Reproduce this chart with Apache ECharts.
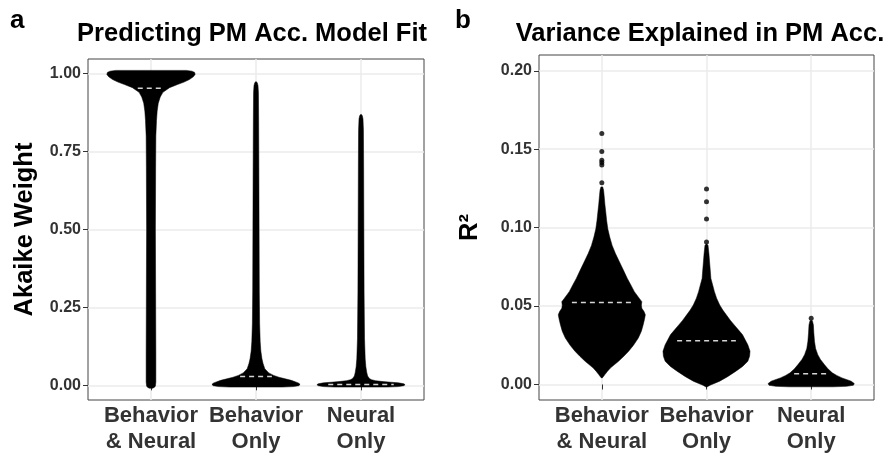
<!DOCTYPE html>
<html>
<head>
<meta charset="utf-8">
<script src="https://cdn.jsdelivr.net/npm/echarts@6/dist/echarts.min.js"></script>
<style>
    html, body { margin: 0; padding: 0; background: #fff; }
    #chart { width: 885px; height: 455px; }
</style>
</head>
<body>
<div id="chart"></div>
<script>
const categories = ['Behavior\n& Neural', 'Behavior\nOnly', 'Neural\nOnly'];
const categoryPositions = [1, 2, 3];
const akaikeTicks = [0, 0.25, 0.5, 0.75, 1];
const r2Ticks = [0, 0.05, 0.1, 0.15, 0.2];

// violin outlines: [value, relative width]
const akaikeBehNeural = [
    [-0.009, 0.04], [-0.006, 0.08], [-0.002, 0.1], [0.01, 0.11], [0.1, 0.11], [0.3, 0.105],
    [0.5, 0.1], [0.7, 0.105], [0.8, 0.11], [0.85, 0.125], [0.88, 0.14], [0.905, 0.165],
    [0.925, 0.21], [0.94, 0.27], [0.955, 0.42], [0.965, 0.6], [0.973, 0.75], [0.981, 0.87],
    [0.99, 0.96], [0.997, 1.0], [1.004, 0.99], [1.008, 0.93], [1.0105, 0.8]
];
const akaikeBehOnly = [
    [-0.0055, 0.6], [-0.004, 0.85], [-0.001, 0.97], [0.003, 1.0], [0.007, 0.97], [0.011, 0.9],
    [0.016, 0.8], [0.021, 0.66], [0.026, 0.52], [0.032, 0.4], [0.04, 0.29], [0.053, 0.2],
    [0.07, 0.16], [0.085, 0.135], [0.11, 0.11], [0.14, 0.095], [0.2, 0.082], [0.3, 0.075],
    [0.5, 0.07], [0.7, 0.065], [0.85, 0.06], [0.94, 0.055], [0.962, 0.045], [0.97, 0.03], [0.974, 0.01]
];
const akaikeNeurOnly = [
    [-0.0055, 0.6], [-0.004, 0.85], [-0.001, 0.97], [0.002, 1.0], [0.005, 0.97], [0.008, 0.85],
    [0.01, 0.68], [0.012, 0.5], [0.015, 0.33], [0.018, 0.24], [0.022, 0.19], [0.03, 0.15],
    [0.042, 0.13], [0.06, 0.11], [0.085, 0.095], [0.15, 0.08], [0.3, 0.07], [0.5, 0.065],
    [0.7, 0.06], [0.82, 0.055], [0.855, 0.045], [0.865, 0.03], [0.869, 0.01]
];
const akaikeMedians = [0.953, 0.028, 0.003];

const r2BehNeural = [
    [0.0042, 0.01], [0.0055, 0.05], [0.0063, 0.07], [0.0085, 0.13], [0.0106, 0.2], [0.0127, 0.29],
    [0.0148, 0.38], [0.018, 0.5], [0.0212, 0.61], [0.025, 0.72], [0.0296, 0.83], [0.034, 0.9],
    [0.038, 0.94], [0.0415, 0.97], [0.0444, 0.99], [0.0465, 0.96], [0.0486, 0.91], [0.0505, 0.9],
    [0.0528, 0.91], [0.055, 0.85], [0.0592, 0.74], [0.0635, 0.66], [0.0676, 0.58], [0.073, 0.49],
    [0.0782, 0.4], [0.0835, 0.31], [0.0887, 0.235], [0.094, 0.18], [0.0993, 0.136], [0.1045, 0.11],
    [0.1099, 0.09], [0.115, 0.07], [0.1204, 0.053], [0.124, 0.04], [0.126, 0.02]
];
const r2BehOnly = [
    [-0.0016, 0.01], [-0.0005, 0.08], [0.0021, 0.3], [0.005, 0.48], [0.0085, 0.67], [0.0115, 0.82],
    [0.0148, 0.94], [0.018, 0.98], [0.0212, 0.99], [0.0253, 0.94], [0.0285, 0.88], [0.0317, 0.82],
    [0.035, 0.72], [0.038, 0.63], [0.041, 0.54], [0.0444, 0.45], [0.0475, 0.37], [0.0507, 0.3],
    [0.055, 0.23], [0.0592, 0.18], [0.0635, 0.14], [0.0676, 0.1], [0.073, 0.085], [0.0782, 0.07],
    [0.0835, 0.055], [0.0887, 0.035], [0.0895, 0.01]
];
const r2NeurOnly = [
    [-0.0015, 0.5], [-0.0012, 0.8], [-0.0005, 0.96], [0.0006, 0.98], [0.0021, 0.91], [0.0032, 0.8],
    [0.0042, 0.7], [0.0058, 0.58], [0.0074, 0.48], [0.01, 0.38], [0.0127, 0.3], [0.016, 0.21],
    [0.019, 0.15], [0.023, 0.1], [0.0275, 0.075], [0.033, 0.06], [0.038, 0.05], [0.0403, 0.03], [0.041, 0.01]
];
const r2Medians = [0.0522, 0.0279, 0.0068];

// single points above the dense part of each group
const r2OutBehNeural = [0.1286, 0.1399, 0.1416, 0.143, 0.1485, 0.1601];
const r2OutBehOnly = [0.0909, 0.1056, 0.1166, 0.1246];
const r2OutNeurOnly = [0.0423];

const FONT = 'Liberation Sans, Arial, sans-serif';
const TEXT = '#333';
const HALF = 0.42; // max half width of a violin, in category units

function violinSeries(profiles, medians, gridIndex) {
    return {
        type: 'custom',
        xAxisIndex: gridIndex,
        yAxisIndex: gridIndex,
        data: categoryPositions.map((p, i) => [p, medians[i]]),
        renderItem: function (params, api) {
            const prof = profiles[params.dataIndex];
            const pos = api.value(0);
            const med = api.value(1);
            const left = prof.map(d => api.coord([pos - d[1] * HALF, d[0]]));
            const right = prof.slice().reverse().map(d => api.coord([pos + d[1] * HALF, d[0]]));
            // width of the outline at the median
            let w = 0;
            for (let i = 1; i < prof.length; i++) {
                if (prof[i][0] >= med) {
                    const t = (med - prof[i - 1][0]) / (prof[i][0] - prof[i - 1][0]);
                    w = prof[i - 1][1] + t * (prof[i][1] - prof[i - 1][1]);
                    break;
                }
            }
            const m1 = api.coord([pos - w * HALF * 0.75, med]);
            const m2 = api.coord([pos + w * HALF * 0.75, med]);
            return {
                type: 'group',
                children: [
                    {
                        type: 'polygon',
                        shape: { points: left.concat(right) },
                        style: { fill: '#000', stroke: '#000', lineWidth: 0.5 }
                    },
                    {
                        type: 'line',
                        shape: { x1: m1[0], y1: m1[1], x2: m2[0], y2: m2[1] },
                        style: { stroke: '#d4d4d4', lineWidth: 1.5, lineDash: [5, 4] }
                    }
                ]
            };
        }
    };
}

function xAxis(gridIndex) {
    return {
        type: 'value',
        gridIndex: gridIndex,
        min: 0.4,
        max: 3.6,
        axisLine: { show: false },
        axisTick: { show: true, length: 5, customValues: categoryPositions, lineStyle: { color: '#333', width: 1 } },
        axisLabel: {
            customValues: categoryPositions,
            formatter: v => categories[Math.round(v) - 1],
            fontFamily: FONT, fontWeight: 'bold', fontSize: 22, lineHeight: 26,
            color: TEXT, margin: 3
        },
        splitLine: { show: true, lineStyle: { color: '#ebebeb', width: 1.5 } }
    };
}

function yAxis(gridIndex, ticks, min, max, name, gap) {
    return {
        type: 'value',
        gridIndex: gridIndex,
        min: min,
        max: max,
        name: name,
        nameLocation: 'middle',
        nameGap: gap,
        nameTextStyle: { fontFamily: FONT, fontWeight: 'bold', fontSize: 25.5, color: '#000' },
        axisLine: { show: false },
        axisTick: { show: true, length: 5, customValues: ticks, lineStyle: { color: '#333', width: 1 } },
        axisLabel: {
            customValues: ticks,
            formatter: v => v.toFixed(2),
            fontFamily: FONT, fontWeight: 'bold', fontSize: 16, color: TEXT, margin: 7
        },
        splitLine: { show: true, lineStyle: { color: '#ebebeb', width: 1.5 } }
    };
}

const titleStyle = { fontFamily: FONT, fontWeight: 'bold', fontSize: 25.5, color: '#000' };
const panelStyle = { fontFamily: FONT, fontWeight: 'bold', fontSize: 26, color: '#000' };

const chart = echarts.init(document.getElementById('chart'));
chart.setOption({
    animation: false,
    backgroundColor: '#fff',
    title: [
        { text: 'a', left: 10, top: 8, padding: 0, textStyle: panelStyle },
        { text: 'Predicting PM Acc. Model Fit', left: 252, top: 21, padding: 0, textAlign: 'center', textStyle: titleStyle },
        { text: 'b', left: 455, top: 8, padding: 0, textStyle: panelStyle },
        { text: 'Variance Explained in PM Acc.', left: 700, top: 21, padding: 0, textAlign: 'center', textStyle: titleStyle }
    ],
    grid: [
        { left: 88, top: 59, width: 336, height: 346, show: true, borderColor: '#444', borderWidth: 1, containLabel: false },
        { left: 539, top: 55, width: 335, height: 347, show: true, borderColor: '#444', borderWidth: 1, containLabel: false }
    ],
    xAxis: [xAxis(0), xAxis(1)],
    yAxis: [
        yAxis(0, akaikeTicks, -0.047, 1.047, 'Akaike Weight', 50),
        yAxis(1, r2Ticks, -0.0099, 0.2101, 'R²', 56)
    ],
    series: [
        violinSeries([akaikeBehNeural, akaikeBehOnly, akaikeNeurOnly], akaikeMedians, 0),
        violinSeries([r2BehNeural, r2BehOnly, r2NeurOnly], r2Medians, 1),
        {
            type: 'scatter',
            xAxisIndex: 1,
            yAxisIndex: 1,
            symbolSize: 5,
            itemStyle: { color: '#000' },
            data: [].concat(
                r2OutBehNeural.map(v => [1, v]),
                r2OutBehOnly.map(v => [2, v]),
                r2OutNeurOnly.map(v => [3, v])
            )
        }
    ]
});
</script>
</body>
</html>
